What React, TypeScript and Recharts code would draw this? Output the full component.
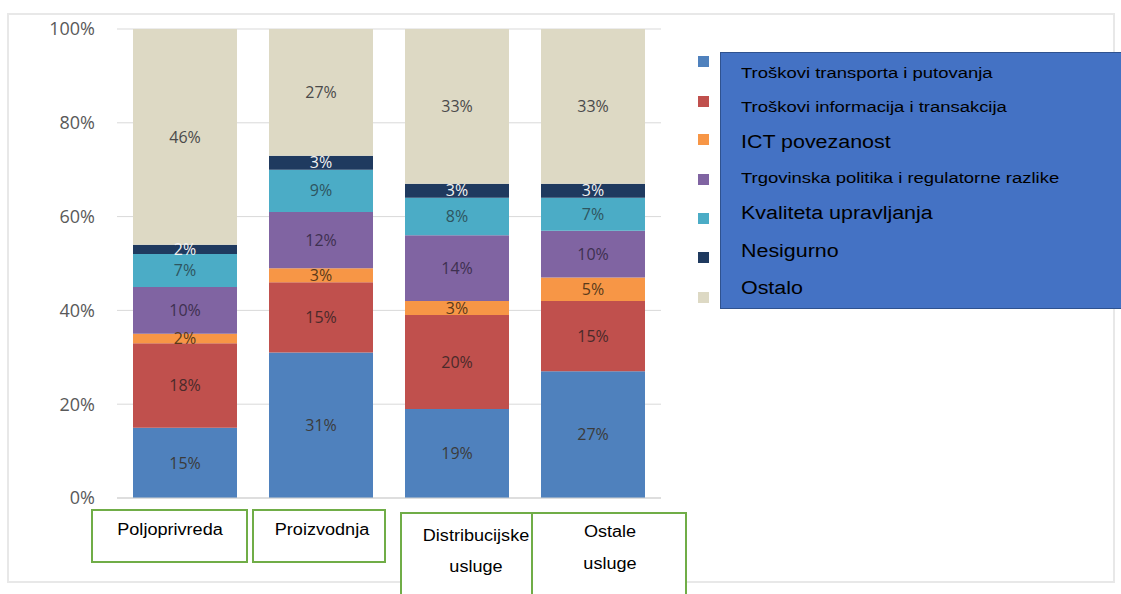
import React from 'react';
import { BarChart, Bar, XAxis, YAxis, CartesianGrid, LabelList } from 'recharts';

const categories = ['Poljoprivreda', 'Proizvodnja', 'Distribucijske usluge', 'Ostale usluge'];
const seriesNames = [
  'Troškovi transporta i putovanja',
  'Troškovi informacija i transakcija',
  'ICT povezanost',
  'Trgovinska politika i regulatorne razlike',
  'Kvaliteta upravljanja',
  'Nesigurno',
  'Ostalo',
];
const transport = [15, 31, 19, 27];
const informacije = [18, 15, 20, 15];
const ict = [2, 3, 3, 5];
const trgovina = [10, 12, 14, 10];
const kvaliteta = [7, 9, 8, 7];
const nesigurno = [2, 3, 3, 3];
const ostalo = [46, 27, 33, 33];
const yTicks = [0, 20, 40, 60, 80, 100];

const seriesValues = [transport, informacije, ict, trgovina, kvaliteta, nesigurno, ostalo];
const COLORS = ['#4F81BD', '#C0504D', '#F79646', '#8064A2', '#4BACC6', '#1F3A5F', '#DDD9C4'];
const LABEL_COLORS = ['#3b3b3b', '#4a2a2a', '#5a3a1a', '#3e3050', '#2e5560', '#f2f2f2', '#4a4a4a'];
const KEYS = ['s0', 's1', 's2', 's3', 's4', 's5', 's6'];

const data = categories.map((name, i) => {
  const row: Record<string, string | number> = { name };
  seriesValues.forEach((arr, s) => {
    row[KEYS[s]] = arr[i];
  });
  return row;
});

// green label boxes under the axis (offsets from the tick centre)
const BOXES = [
  { dx: -93, w: 155, dy: 12, h: 52, lines: ['Poljoprivreda'], tx: -15, ty: [37] },
  { dx: -68, w: 132, dy: 12, h: 52, lines: ['Proizvodnja'], tx: 1, ty: [37] },
  { dx: -56, w: 131, dy: 15, h: 90, lines: ['Distribucijske', 'usluge'], tx: 19, ty: [43, 74] },
  { dx: -61, w: 154, dy: 15, h: 90, lines: ['Ostale', 'usluge'], tx: 17, ty: [39, 71] },
];

const CategoryTick = (props: any) => {
  const { x, y, index } = props;
  const b = BOXES[index];
  if (!b) return null;
  return (
    <g>
      <rect x={x + b.dx} y={y + b.dy} width={b.w} height={b.h} fill="#fff" stroke="#70AD47" strokeWidth={2} />
      {b.lines.map((ln, i) => (
        <text key={i} transform={`translate(${x + b.tx},${y + b.ty[i]}) scale(1.13,1)`} textAnchor="middle"
          fontSize={16} fontFamily="'Liberation Sans', Arial, sans-serif" fill="#000">
          {ln}
        </text>
      ))}
    </g>
  );
};

const LEGEND_TEXT = [
  { size: 15.5, top: 65 },
  { size: 15.5, top: 99 },
  { size: 18, top: 133 },
  { size: 15.5, top: 170 },
  { size: 18, top: 204 },
  { size: 18, top: 242 },
  { size: 18, top: 279 },
];
const MARKER_TOPS = [56, 96, 134, 174, 213, 252, 292];

export default function App() {
  return (
    <div style={{ position: 'absolute', left: 0, top: 0, width: 1121, height: 594, background: '#fff', overflow: 'hidden' }}>
      <div style={{ position: 'absolute', left: 7, top: 13, width: 1104, height: 566, border: '2px solid #e8e8e8' }} />
      <div style={{ position: 'absolute', left: 0, top: 0 }}>
        <BarChart width={700} height={594} data={data} margin={{ top: 29, right: 39, bottom: 6, left: 57 }}
          barCategoryGap={16}>
          <CartesianGrid vertical={false} stroke="#d9d9d9" />
          <XAxis dataKey="name" tick={<CategoryTick />} tickLine={false} tickSize={0} tickMargin={0}
            axisLine={{ stroke: '#d0d0d0' }} height={90} interval={0} />
          <YAxis domain={[0, 100]} ticks={yTicks} tickFormatter={(v) => `${v}%`} axisLine={false} tickLine={false}
            tickSize={0} tickMargin={22} width={60}
            tick={{ fontSize: 18, fill: '#595959', fontFamily: "'Open Sans', sans-serif" }} />
          {KEYS.map((k, s) => (
            <Bar key={k} dataKey={k} stackId="a" fill={COLORS[s]} name={seriesNames[s]} isAnimationActive={false}>
              <LabelList dataKey={k} position="center" formatter={(v: any) => `${v}%`}
                fill={LABEL_COLORS[s]} fontSize={16} fontFamily="'Open Sans', sans-serif" />
            </Bar>
          ))}
        </BarChart>
      </div>
      {MARKER_TOPS.map((t, i) => (
        <div key={i} style={{ position: 'absolute', left: 698, top: t, width: 11, height: 11, background: COLORS[i] }} />
      ))}
      <div style={{ position: 'absolute', left: 720, top: 52, width: 420, height: 255, background: '#4472C4', border: '1px solid #2F528F' }} />
      {seriesNames.map((n, i) => (
        <div key={n} style={{
          position: 'absolute', left: 741, top: LEGEND_TEXT[i].top, fontSize: LEGEND_TEXT[i].size,
          fontFamily: "'Liberation Sans', Arial, sans-serif", color: '#000', whiteSpace: 'nowrap', lineHeight: 1,
          transform: 'scaleX(1.19)', transformOrigin: 'left center',
        }}>
          {n}
        </div>
      ))}
    </div>
  );
}
